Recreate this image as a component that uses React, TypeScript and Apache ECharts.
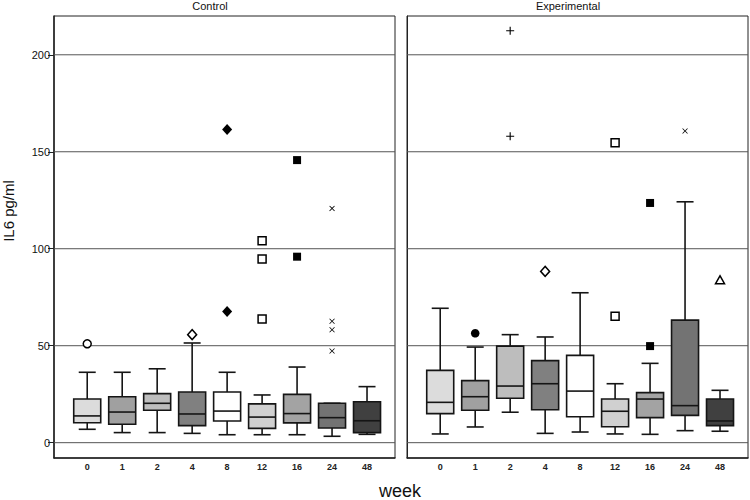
import React, { useEffect, useRef } from 'react';
import * as echarts from 'echarts';

const weeks = ['0', '1', '2', '4', '8', '12', '16', '24', '48'];
const boxFills = ['#dcdcdc', '#a0a0a0', '#bdbdbd', '#808080', '#ffffff', '#d0d0d0', '#a3a3a3', '#737373', '#404040'];

// [min, Q1, median, Q3, max] per week
const controlStats = [
  [6.9, 10.3, 13.8, 22.5, 36.3],
  [5.2, 9.5, 15.8, 23.7, 36.3],
  [5.2, 16.7, 20.3, 25.3, 38.1],
  [4.8, 8.8, 14.8, 26.1, 51.4],
  [4.1, 11.2, 16.3, 26.1, 36.3],
  [4.1, 7.4, 13.2, 20.0, 24.6],
  [4.1, 10.2, 15.0, 24.9, 39.0],
  [3.3, 7.6, 12.9, 20.3, 20.3],
  [4.3, 5.2, 11.3, 21.1, 28.9],
];
const experimentalStats = [
  [4.5, 15.0, 20.8, 37.3, 69.3],
  [8.1, 16.7, 23.7, 32.0, 49.3],
  [15.7, 22.9, 29.2, 49.8, 55.7],
  [4.8, 17.0, 30.4, 42.3, 54.5],
  [5.5, 13.4, 26.6, 45.0, 77.3],
  [4.5, 8.2, 16.2, 22.5, 30.4],
  [4.3, 12.9, 22.5, 25.8, 40.9],
  [6.2, 14.1, 19.1, 63.2, 124.2],
  [5.9, 8.8, 11.2, 22.5, 27.0],
];

// outliers: [week index, value]
const controlOutliers = [
  [0, 51.0], [3, 55.7], [4, 67.7], [4, 161.5], [5, 63.8], [5, 94.7], [5, 104.1],
  [6, 95.9], [6, 145.7], [7, 47.3], [7, 58.2], [7, 62.6], [7, 120.8],
];
const experimentalOutliers = [
  [1, 56.4], [2, 158.0], [2, 212.4], [3, 88.3], [5, 65.2], [5, 154.6],
  [6, 49.8], [6, 123.6], [7, 160.7], [8, 84.0],
];

const yTicks = [0, 50, 100, 150, 200];
const panelTitles = ['Control', 'Experimental'];

const PLUS = 'path://M4.3,0H5.7V4.3H10V5.7H5.7V10H4.3V5.7H0V4.3H4.3Z';
const CROSS = 'path://M1,0L5,4L9,0L10,1L6,5L10,9L9,10L5,6L1,10L0,9L4,5L0,1Z';
const outlierMarks = [
  { symbol: 'circle', size: 8, fill: '#ffffff' },
  { symbol: 'circle', size: 8.5, fill: '#000000' },
  { symbol: PLUS, size: 8, fill: '#000000' },
  { symbol: 'diamond', size: [9, 10], fill: '#ffffff' },
  { symbol: 'diamond', size: [10, 11], fill: '#000000' },
  { symbol: 'rect', size: 8, fill: '#ffffff' },
  { symbol: 'rect', size: 8, fill: '#000000' },
  { symbol: CROSS, size: 5.5, fill: '#000000' },
  { symbol: 'triangle', size: [9, 8], fill: '#ffffff' },
];

const FONT = '"Liberation Sans", Arial, Helvetica, sans-serif';
const Y_MIN = -7.9;
const Y_MAX = 220;
const X_MIN = -0.95;
const X_MAX = 8.8;

export default function App() {
  const ref = useRef<HTMLDivElement>(null);

  useEffect(() => {
    document.body.style.margin = '0';
    if (!ref.current) return;
    const chart = echarts.init(ref.current, undefined, { renderer: 'svg' });

    const statsList = [controlStats, experimentalStats];
    const outlierList = [controlOutliers, experimentalOutliers];
    const lefts = [54, 407];

    const grids = lefts.map((l) => ({
      left: l,
      top: 16,
      width: 341,
      height: 442,
      show: true,
      borderColor: '#222',
      borderWidth: 1,
      backgroundColor: 'transparent',
      containLabel: false,
    }));

    const xAxes = [0, 1].map((p) => ({
      type: 'value',
      gridIndex: p,
      position: 'bottom',
      min: X_MIN,
      max: X_MAX,
      axisLine: { show: true, onZero: false, lineStyle: { color: '#222', width: 1.5 } },
      axisTick: { show: false },
      splitLine: { show: false },
      axisLabel: {
        customValues: weeks.map((_, i) => i),
        formatter: (v: number) => weeks[Math.round(v)] ?? '',
        fontSize: 9,
        fontWeight: 'bold',
        fontFamily: FONT,
        color: '#222',
        margin: 4,
      },
    }));

    const yAxes = [0, 1].map((p) => ({
      type: 'value',
      gridIndex: p,
      position: 'left',
      min: Y_MIN,
      max: Y_MAX,
      axisLine: { show: true, onZero: false, lineStyle: { color: '#222', width: p === 0 ? 1.5 : 1 } },
      axisTick: p === 0
        ? { show: true, customValues: yTicks, length: 6, lineStyle: { color: '#222' } }
        : { show: false },
      splitLine: { show: false },
      axisLabel: p === 0
        ? { show: true, customValues: yTicks, fontSize: 11, fontFamily: FONT, color: '#111', margin: 4 }
        : { show: false },
    }));

    const series: any[] = [];
    [0, 1].forEach((p) => {
      // grid lines
      series.push({
        type: 'custom',
        xAxisIndex: p,
        yAxisIndex: p,
        z: 1,
        silent: true,
        data: yTicks.map((v) => [0, v]),
        encode: { x: 0, y: 1 },
        renderItem: (params: any, api: any) => {
          const cs = params.coordSys;
          const y = api.coord([0, api.value(1)])[1];
          return {
            type: 'line',
            shape: { x1: cs.x, y1: y, x2: cs.x + cs.width, y2: y },
            style: { stroke: '#555', lineWidth: 1 },
          };
        },
      });
      // boxes
      series.push({
        type: 'custom',
        xAxisIndex: p,
        yAxisIndex: p,
        z: 2,
        silent: true,
        data: statsList[p].map((s, i) => [i, ...s]),
        encode: { x: 0, y: [1, 2, 3, 4, 5] },
        renderItem: (params: any, api: any) => {
          const i = api.value(0);
          const c = (v: number) => api.coord([i, v]);
          const pMin = c(api.value(1));
          const pQ1 = c(api.value(2));
          const pMed = c(api.value(3));
          const pQ3 = c(api.value(4));
          const pMax = c(api.value(5));
          const x = pMin[0];
          const bw = 27;
          const cw = 17;
          const ls = { stroke: '#151515', lineWidth: 1.6 };
          return {
            type: 'group',
            children: [
              { type: 'line', shape: { x1: x, y1: pMax[1], x2: x, y2: pQ3[1] }, style: ls },
              { type: 'line', shape: { x1: x - cw / 2, y1: pMax[1], x2: x + cw / 2, y2: pMax[1] }, style: ls },
              { type: 'line', shape: { x1: x, y1: pQ1[1], x2: x, y2: pMin[1] }, style: ls },
              { type: 'line', shape: { x1: x - cw / 2, y1: pMin[1], x2: x + cw / 2, y2: pMin[1] }, style: ls },
              {
                type: 'rect',
                shape: { x: x - bw / 2, y: pQ3[1], width: bw, height: pQ1[1] - pQ3[1] },
                style: { fill: boxFills[i], stroke: '#151515', lineWidth: 1.6 },
              },
              { type: 'line', shape: { x1: x - bw / 2, y1: pMed[1], x2: x + bw / 2, y2: pMed[1] }, style: ls },
            ],
          };
        },
      });
      // outliers
      series.push({
        type: 'scatter',
        xAxisIndex: p,
        yAxisIndex: p,
        z: 3,
        silent: true,
        data: outlierList[p].map(([i, v]) => {
          const m = outlierMarks[i];
          const open = m.fill === '#ffffff';
          return {
            value: [i, v],
            symbol: m.symbol,
            symbolSize: m.size,
            itemStyle: { color: m.fill, borderColor: '#000', borderWidth: open ? 1.5 : 0, opacity: 1 },
          };
        }),
      });
    });

    const textStyle = (text: string, size: number) => ({
      text,
      fontSize: size,
      fontFamily: FONT,
      fill: '#111',
      align: 'center',
      verticalAlign: 'middle',
    });

    chart.setOption({
      animation: false,
      backgroundColor: '#ffffff',
      grid: grids,
      xAxis: xAxes,
      yAxis: yAxes,
      series,
      graphic: [
        { type: 'text', x: 210, y: 6, style: textStyle(panelTitles[0], 11) },
        { type: 'text', x: 568, y: 6, style: textStyle(panelTitles[1], 11) },
        { type: 'text', x: 8, y: 211, rotation: Math.PI / 2, style: textStyle('IL6 pg/ml', 15) },
        { type: 'text', x: 400, y: 491, style: textStyle('week', 18) },
      ],
    });

    return () => {
      chart.dispose();
    };
  }, []);

  return <div ref={ref} style={{ width: 750, height: 500 }} />;
}
